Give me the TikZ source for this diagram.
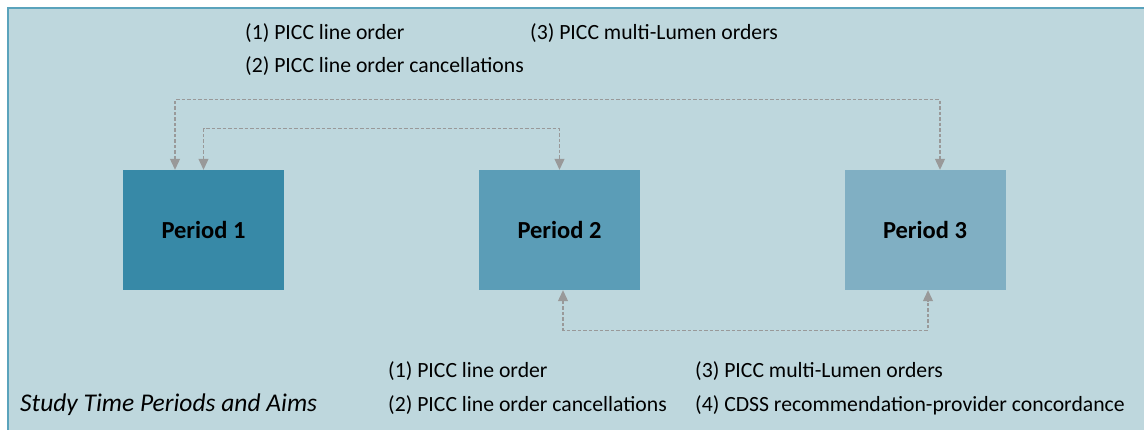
\documentclass[tikz,border=0pt]{standalone}
\usepackage{fontspec}
\setmainfont{Carlito}
\usetikzlibrary{arrows.meta}
\definecolor{panelbg}{HTML}{BED7DD}
\definecolor{panelrule}{HTML}{5AA3BC}
\definecolor{pone}{HTML}{3789A7}
\definecolor{ptwo}{HTML}{5B9DB7}
\definecolor{pthree}{HTML}{80AFC3}
\definecolor{linkgray}{HTML}{999999}
\tikzset{
  period/.style={minimum width=161pt, minimum height=120pt, inner sep=0pt,
    font=\fontsize{24.5}{28}\selectfont\bfseries, text=black},
  aim/.style={anchor=base west, inner sep=0pt,
    font=\fontsize{21.7}{26}\selectfont, text=black},
  link/.style={draw=linkgray, line width=1.1pt, dash pattern=on 3.5pt off 2pt,
    {Triangle[width=10pt,length=11pt]}-{Triangle[width=10pt,length=11pt]}},
}
\begin{document}
\begin{tikzpicture}[x=1pt,y=-1pt]
  \useasboundingbox (0,0) rectangle (1144,430);
  % backdrop panel
  \fill[white] (0,0) rectangle (1144,430);
  \draw[panelrule, fill=panelbg, line width=2pt] (8,8) rectangle (1160,450);

  % the three study periods
  \node[period, fill=pone]   (p1) at (203.5,230) {Period 1};
  \node[period, fill=ptwo]   (p2) at (559.5,230) {Period 2};
  \node[period, fill=pthree] (p3) at (925,230)   {Period 3};

  % aims shared between periods
  \draw[link] ([xshift=-28.5pt]p1.north) -- ++(0,-70) -| ([xshift=15pt]p3.north);
  \draw[link] (p1.north) -- ++(0,-41) -| (p2.north);
  \draw[link] ([xshift=3.5pt]p2.south) -- ++(0,40) -| ([xshift=3pt]p3.south);

  % aim labels above
  \node[aim] (a1) at (245,40) {(1) PICC line order};
  \node[aim] (a2) at (245,73) {(2) PICC line order cancellations};
  \node[aim] (a3) at (530,40) {(3) PICC multi-Lumen orders};

  % aim labels below
  \node[aim] (b1) at (388,378) {(1) PICC line order};
  \node[aim] (b2) at (388,411) {(2) PICC line order cancellations};
  \node[aim] (b3) at (695,378) {(3) PICC multi-Lumen orders};
  \node[aim] (b4) at (695,411) {(4) CDSS recommendation-provider concordance};

  % caption
  \node[aim, font=\fontsize{25.5}{30}\selectfont\itshape] (cap) at (20,411)
    {Study Time Periods and Aims};
\end{tikzpicture}
\end{document}
